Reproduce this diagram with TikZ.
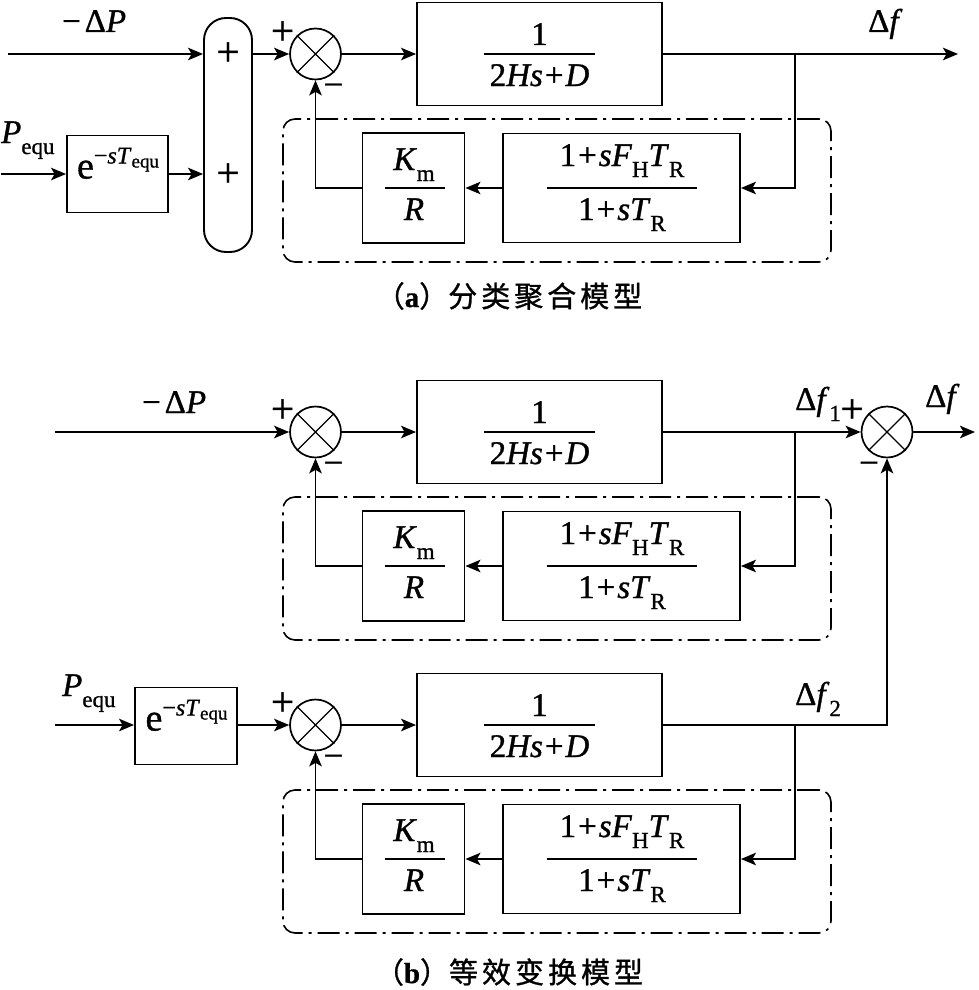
\documentclass[tikz,border=0pt]{standalone}
\usepackage{fontspec}
\setmainfont[FakeBold=1]{Liberation Serif}
\newfontfamily\cjk[FakeBold=1]{Noto Sans CJK SC}
\usetikzlibrary{arrows.meta}
\newcommand{\mi}[1]{\textit{#1}}
\newcommand{\sbs}[1]{\raisebox{-11pt}{\fontsize{23}{23}\selectfont #1}}
\newcommand{\pl}{\hspace{0.06em}+\hspace{0.06em}}
\newcommand{\gp}{\hspace{4pt}}
\newcommand{\expo}{{\fontsize{38}{40}\selectfont e}\raisebox{15pt}{\fontsize{24}{24}\selectfont −\mi{sT}\raisebox{-4pt}{\fontsize{19}{19}\selectfont equ}}}
\newcommand{\loopblock}[2]{%
  \node[sumc] (#1s) at (315.5,#2) {};
  \draw[xline] (#1s.45) -- (#1s.225) (#1s.135) -- (#1s.315);
  \node[pp] (#1sp) at (282.5,{#2-21}) {+};
  \node[pm] (#1sm) at (333.5,{#2+36}) {−};
  \node[blk, minimum width=245pt, minimum height=103pt] (#1g) at (539.5,#2) {};
  \node[txt] (#1gn) at (539.5,{#2-9}) {1};
  \node[txt] (#1gd) at (539.5,{#2+32}) {2\mi{Hs}\pl\mi{D}};
  \draw[frule] ([xshift=-55.5pt]#1g.center) -- ([xshift=55.5pt]#1g.center);
  \node[grp, minimum width=548pt, minimum height=143pt] (#1grp) at (557,{#2+136.5}) {};
  \node[blk, minimum width=237pt, minimum height=109pt] (#1f) at (621.5,{#2+134}) {};
  \node[txt] (#1fn) at (622,{#2+134-22}) {1\pl\mi{sF}\sbs{H}\mi{T}\sbs{R}};
  \node[txt] (#1fd) at (622,{#2+134+32}) {1\pl\mi{sT}\sbs{R}};
  \draw[frule] ([xshift=-75pt]#1f.center) -- ([xshift=75pt]#1f.center);
  \node[blk, minimum width=102pt, minimum height=110pt] (#1k) at (413.5,{#2+134}) {};
  \node[txt] (#1kn) at (414,{#2+134-18}) {\mi{K}\sbs{m}};
  \node[txt] (#1kd) at (414,{#2+134+32}) {\mi{R}};
  \draw[frule] ([xshift=-29pt]#1k.center) -- ([xshift=31pt]#1k.center);
  \coordinate (#1br) at (795,#2);
  \draw[arr] (#1s.east) -- (#1g.west);
  \draw[arr] (#1br) |- (#1f.east);
  \draw[arr] (#1f.west) -- (#1k.east);
  \draw[arr] (#1k.west) -| (#1s.south);
}
\begin{document}
\begin{tikzpicture}[x=1pt,y=-1pt,
  font=\fontsize{33}{38}\selectfont,
  blk/.style={draw, line width=1.9pt, inner sep=0pt},
  sumc/.style={circle, draw, line width=1.7pt, minimum size=51pt, inner sep=0pt},
  xline/.style={line width=1.3pt},
  arr/.style={line width=1.9pt, -{Stealth[length=15pt,width=12.5pt,inset=3.5pt]}},
  frule/.style={line width=1.8pt},
  grp/.style={draw, line width=1.6pt, rounded corners=12pt, dash pattern=on 22pt off 6pt on 3pt off 6pt},
  pm/.style={inner sep=0pt, font=\fontsize{35}{38}\selectfont},
  pp/.style={inner sep=0pt, font=\fontsize{41}{44}\selectfont},
  txt/.style={inner sep=0pt, anchor=base},
  lab/.style={inner sep=0pt, anchor=base west},
  captxt/.style={font=\cjk\fontsize{29}{30}\selectfont, inner sep=0pt},
]
\useasboundingbox (0,0) rectangle (979,990);

% ---------------- (a) ----------------
\loopblock{a}{54}
\node[draw, line width=1.9pt, rounded corners=22pt, minimum width=48pt, minimum height=234pt] (pill) at (228,135) {};
\node[pp] (pp1) at (228,54) {+};
\node[pp] (pp2) at (228,175) {+};
\node[blk, minimum width=101pt, minimum height=77pt] (ae) at (117.5,174) {};
\node[txt] (aet) at (118,178.5) {\expo};
\coordinate (ain) at (8,54);
\coordinate (apin) at (1,174);
\coordinate (aout) at (958,54);
\draw[arr] (ain) -- (pill.west |- ain);
\draw[arr] (apin) -- (ae.west);
\draw[arr] (ae.east) -- (pill.west |- ae.east);
\draw[arr] (pill.east |- as) -- (as.west);
\draw[arr] (ag.east) -- (aout);
\node[lab] (adp) at (62,32) {−\hspace{0.12em}Δ\mi{P}};
\node[lab] (apeq) at (1,143) {\mi{P}\sbs{equ}};
\node[lab] (adf) at (868,32) {Δ\mi{f}};
\node[captxt] (capa) at (509,296) {（{\rmfamily\bfseries a}）分\gp 类\gp 聚\gp 合\gp 模\gp 型};

% ---------------- (b) ----------------
\loopblock{b}{432}
\loopblock{c}{725}
\node[sumc] (fs) at (887,432) {};
\draw[xline] (fs.45) -- (fs.225) (fs.135) -- (fs.315);
\node[pp] (fsp) at (852,411) {+};
\node[pm] (fsm) at (869,468) {−};
\node[blk, minimum width=102pt, minimum height=77pt] (ce) at (186,726) {};
\node[txt] (cet) at (186.5,730.5) {\expo};
\coordinate (bin) at (55,432);
\coordinate (cin) at (55,725);
\coordinate (bout) at (975,432);
\draw[arr] (bin) -- (bs.west);
\draw[arr] (cin) -- (ce.west |- cin);
\draw[arr] (ce.east |- cs) -- (cs.west);
\draw[arr] (bg.east) -- (fs.west);
\draw[arr] (cg.east) -| (fs.south);
\draw[arr] (fs.east) -- (bout);
\node[lab] (bdp) at (142,413) {−\hspace{0.12em}Δ\mi{P}};
\node[lab] (cpeq) at (62,696) {\mi{P}\sbs{equ}};
\node[lab] (bdf) at (925,407) {Δ\mi{f}};
\node[lab] (bdf1) at (795,410) {Δ\mi{f}\sbs{1}};
\node[lab] (cdf2) at (795,705) {Δ\mi{f}\sbs{2}};
\node[captxt] (capb) at (509,972) {（{\rmfamily\bfseries b}）等\gp 效\gp 变\gp 换\gp 模\gp 型};
\end{tikzpicture}
\end{document}
